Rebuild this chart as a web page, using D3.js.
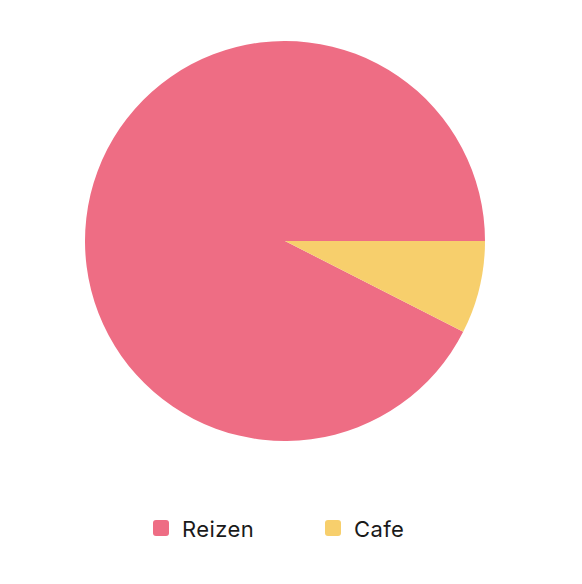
<!DOCTYPE html>
<html><head><meta charset="utf-8">
<script src="https://cdn.jsdelivr.net/npm/d3@7"></script>
<style>html,body{margin:0;padding:0;background:#fff;}</style>
</head><body>
<svg id="chart" width="582" height="584"></svg>
<script>
const categories = ["Reizen", "Cafe"];
const values = [92.5, 7.5];
const colors = ["#EE6D84", "#F7CF6C"];

const svg = d3.select("#chart");
const cx = 285, cy = 241, r = 200;

const pie = d3.pie().sort(null)
  .startAngle(Math.PI / 2 + 2 * Math.PI)
  .endAngle(Math.PI / 2);
const arc = d3.arc().innerRadius(0).outerRadius(r);
const color = d3.scaleOrdinal().domain(categories).range(colors);

const data = categories.map((c, i) => ({ name: c, value: values[i] }));

svg.append("g").attr("transform", `translate(${cx},${cy})`)
  .selectAll("path").data(pie.value(d => d.value)(data))
  .join("path")
  .attr("d", arc)
  .attr("fill", d => color(d.data.name));

const legendX = d3.scalePoint().domain(categories).range([153, 325]);
const lg = svg.append("g").selectAll("g").data(categories).join("g")
  .attr("transform", d => `translate(${legendX(d)},520)`);
lg.append("rect").attr("width", 16).attr("height", 16).attr("rx", 3)
  .attr("fill", d => color(d));
lg.append("text").attr("x", 29).attr("y", 16.5)
  .attr("font-family", "Inter, sans-serif")
  .attr("font-size", 22).attr("letter-spacing", 0.4).attr("fill", "#1a1a1a")
  .text(d => d);
</script>
</body></html>
